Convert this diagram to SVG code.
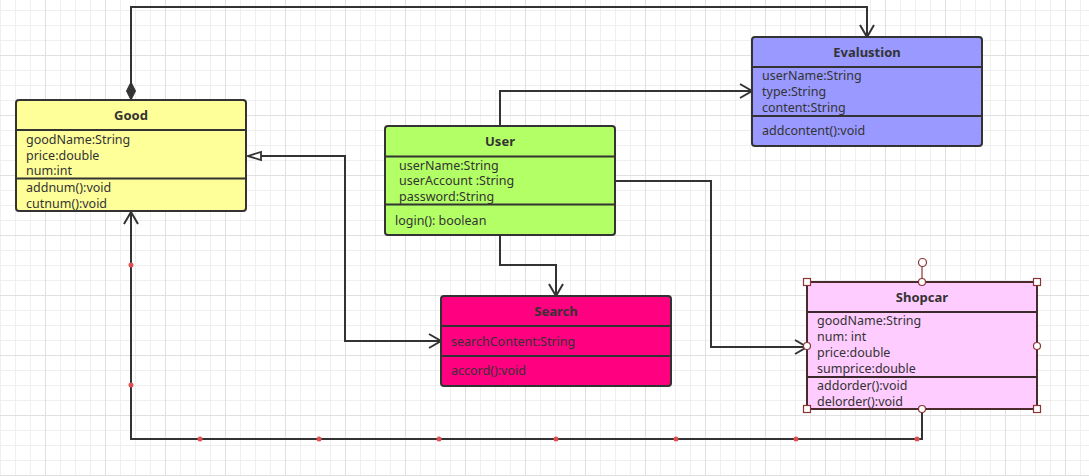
<svg xmlns="http://www.w3.org/2000/svg" width="1089" height="476" viewBox="0 0 1089 476">
<defs>
<pattern id="minor" x="0" y="10" width="15" height="15" patternUnits="userSpaceOnUse">
<path d="M0.5 0V15M0 0.5H15" stroke="#efefef" stroke-width="1" fill="none"/>
</pattern>
<pattern id="major" x="45" y="55" width="60" height="60" patternUnits="userSpaceOnUse">
<path d="M0.5 0V60M0 0.5H60" stroke="#e0e0e0" stroke-width="1" fill="none"/>
</pattern>
<marker id="open" viewBox="0 0 16 16" refX="14" refY="8" markerWidth="16" markerHeight="16" markerUnits="userSpaceOnUse" orient="auto">
<path d="M2 1L14 8L2 15" fill="none" stroke="#333" stroke-width="2"/>
</marker>
<marker id="tri" viewBox="0 0 16 12" refX="1" refY="6" markerWidth="16" markerHeight="12" markerUnits="userSpaceOnUse" orient="auto">
<path d="M1 6L14 2V10Z" fill="#fff" stroke="#333" stroke-width="1.8"/>
</marker>
<marker id="diamond" viewBox="0 0 20 12" refX="1" refY="6" markerWidth="20" markerHeight="12" markerUnits="userSpaceOnUse" orient="auto">
<path d="M1 6L10 1.5L19 6L10 10.5Z" fill="#333" stroke="#333" stroke-width="1"/>
</marker>
</defs>
<style>
.box{stroke:#333;stroke-width:2}
.sep{stroke:#333;stroke-width:2}
.t{font-family:"Noto Sans","Liberation Sans",sans-serif;font-size:12.5px;fill:#333}
.h{font-family:"Noto Sans","Liberation Sans",sans-serif;font-size:13px;font-weight:bold;fill:#333;text-anchor:middle}
.c{fill:none;stroke:#333;stroke-width:2}
.dot{fill:#e05050}
.hd{fill:#fff;stroke:#8b3535;stroke-width:1.2}
</style>
<rect width="1089" height="476" fill="#fff"/>
<rect width="1089" height="476" fill="url(#minor)"/>
<rect width="1089" height="476" fill="url(#major)"/>

<g id="connectors">
<path class="c" d="M131 100V7H867V37" marker-start="url(#diamond)" marker-end="url(#open)"/>
<path class="c" d="M500 126V91H752" marker-end="url(#open)"/>
<path class="c" d="M615 181H711V347H807" marker-end="url(#open)"/>
<path class="c" d="M500 235V265H556V296" marker-end="url(#open)"/>
<path class="c" d="M248 156H345V341H441" marker-start="url(#tri)" marker-end="url(#open)"/>
<path class="c" d="M922 409V439H131V212" marker-end="url(#open)"/>
<g class="dot">
<circle cx="200" cy="439" r="2.5"/><circle cx="319" cy="439" r="2.5"/><circle cx="439" cy="439" r="2.5"/><circle cx="556" cy="439" r="2.5"/><circle cx="676" cy="439" r="2.5"/><circle cx="796" cy="439" r="2.5"/><circle cx="917" cy="439" r="2.5"/>
<circle cx="131" cy="265" r="2.5"/><circle cx="131" cy="385" r="2.5"/>
</g>
</g>

<g id="good">
<rect class="box" x="16" y="100" width="230" height="111" rx="3" fill="#ffff99"/>
<path class="sep" d="M16 130H246M16 178.5H246"/>
<text class="h" x="131" y="120">Good</text>
<text class="t" x="26" y="144">goodName:String</text>
<text class="t" x="26" y="159.5">price:double</text>
<text class="t" x="26" y="175">num:int</text>
<text class="t" x="26" y="192">addnum():void</text>
<text class="t" x="26" y="207.5">cutnum():void</text>
</g>

<g id="user">
<rect class="box" x="385" y="126" width="230" height="109" rx="3" fill="#b3ff66"/>
<path class="sep" d="M385 156.5H615M385 204.5H615"/>
<text class="h" x="500" y="146">User</text>
<text class="t" x="399" y="169.5">userName:String</text>
<text class="t" x="399" y="185">userAccount :String</text>
<text class="t" x="399" y="200.5">password:String</text>
<text class="t" x="395" y="224.5">login(): boolean</text>
</g>

<g id="evalustion">
<rect class="box" x="752" y="37" width="230" height="109" rx="3" fill="#9999ff"/>
<path class="sep" d="M752 67H982M752 116H982"/>
<text class="h" x="867" y="57">Evalustion</text>
<text class="t" x="762" y="79.5">userName:String</text>
<text class="t" x="762" y="96">type:String</text>
<text class="t" x="762" y="112">content:String</text>
<text class="t" x="762" y="135">addcontent():void</text>
</g>

<g id="search">
<rect class="box" x="441" y="296" width="230" height="90" rx="3" fill="#ff0080"/>
<path class="sep" d="M441 326H671M441 356H671"/>
<text class="h" x="556" y="315.5">Search</text>
<text class="t" x="451" y="345.5">searchContent:String</text>
<text class="t" x="451" y="375">accord():void</text>
</g>

<g id="shopcar">
<rect x="807" y="282" width="230" height="127" fill="#ffccff" stroke="#4a2a2a" stroke-width="2"/>
<path d="M807 312H1037M807 377H1037" stroke="#3a2a2a" stroke-width="2"/>
<text class="h" x="922" y="302">Shopcar</text>
<text class="t" x="817" y="325">goodName:String</text>
<text class="t" x="817" y="340.5">num: int</text>
<text class="t" x="817" y="356.5">price:double</text>
<text class="t" x="817" y="372.5">sumprice:double</text>
<text class="t" x="817" y="390">addorder():void</text>
<text class="t" x="817" y="405.5">delorder():void</text>
<path d="M922 266.5V282" stroke="#8b3535" stroke-width="1.2"/>
<circle class="hd" cx="922.5" cy="262.5" r="4"/>
<circle class="hd" cx="922" cy="282" r="3.5"/>
<circle class="hd" cx="807" cy="346" r="3.5"/>
<circle class="hd" cx="1037" cy="346" r="3.5"/>
<circle class="hd" cx="922" cy="409" r="3.5"/>
<rect class="hd" x="803.5" y="278.5" width="7" height="7"/>
<rect class="hd" x="1033.5" y="278.5" width="7" height="7"/>
<rect class="hd" x="803.5" y="405.5" width="7" height="7"/>
<rect class="hd" x="1033.5" y="405.5" width="7" height="7"/>
</g>
</svg>
